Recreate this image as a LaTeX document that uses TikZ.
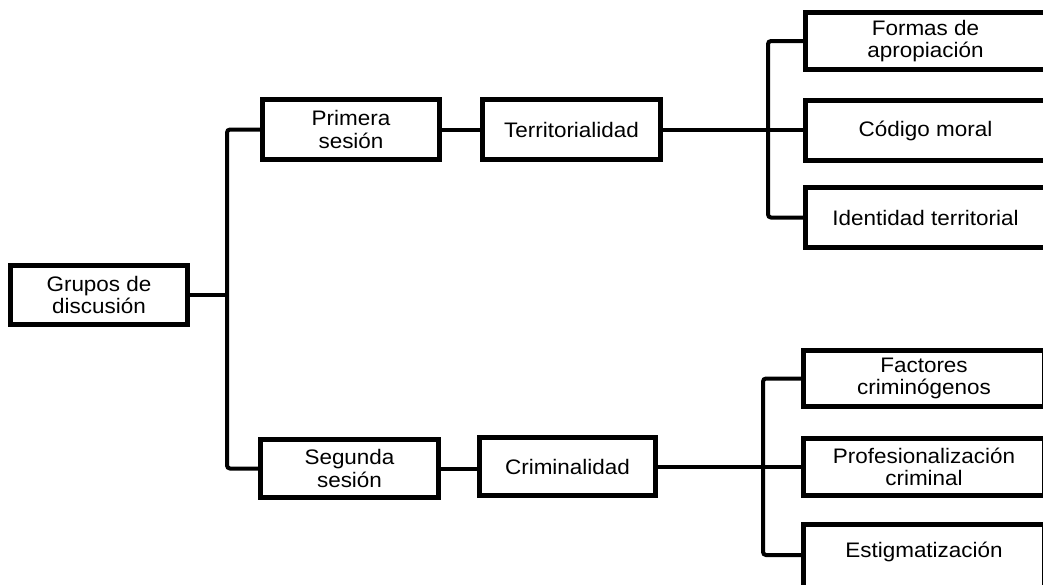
\documentclass[tikz,border=0pt]{standalone}
\usepackage{fontspec}
\setmainfont{Liberation Sans}[FakeStretch=1.07]
\begin{document}
\begin{tikzpicture}[x=1pt,y=-1pt,
  box/.style={draw=black, line width=5pt, align=center, inner sep=0pt,
    font=\fontsize{21}{22.5}\selectfont, text=black},
  link/.style={draw=black, line width=4pt, rounded corners=3pt}]
\clip (0,0) rectangle (1043,584);
\fill[white] (0,0) rectangle (1043,584);
% nodes
\node[box, minimum width=177pt, minimum height=59pt] (grupos) at (99,295) {Grupos de\\discusión};
\node[box, minimum width=177pt, minimum height=60pt] (prim) at (351,129.5) {Primera\\sesión};
\node[box, minimum width=178pt, minimum height=60pt] (terr) at (571.5,129.5) {Territorialidad};
\node[box, minimum width=240pt, minimum height=57pt] (formas) at (925.5,41) {Formas de\\apropiación};
\node[box, minimum width=240pt, minimum height=60pt] (codigo) at (925.5,130.5) {Código moral};
\node[box, minimum width=240pt, minimum height=60pt] (ident) at (925.5,217.5) {Identidad territorial};
\node[box, minimum width=178pt, minimum height=58pt] (seg) at (349.5,468.5) {Segunda\\sesión};
\node[box, minimum width=176pt, minimum height=58pt] (crim) at (567.5,466.5) {Criminalidad};
\node[box, minimum width=241pt, minimum height=56pt] (fact) at (924,378.5) {Factores\\criminógenos};
\node[box, minimum width=241pt, minimum height=57pt] (prof) at (924,467) {Profesionalización\\criminal};
\node[box, minimum width=241pt, text height=33pt, text depth=36pt, anchor=mid] (estig) at (924,555) {Estigmatización};
% trunks
\coordinate (t1) at (227,295);
\coordinate (t2) at (768,130);
\coordinate (t3) at (763,467);
% connectors
\draw[link] (prim.west) -| (t1) |- (seg.west);
\draw[link] (grupos.east) -- (t1);
\draw[link] (prim.east) -- (terr.west);
\draw[link] (seg.east) -- (seg.east -| crim.west);
\draw[link] (formas.west) -| (t2) |- (ident.west);
\draw[link] (terr.east) -- (terr.east -| codigo.west);
\draw[link] (fact.west) -| (t3) |- (estig.mid west);
\draw[link] (crim.east) -- (crim.east -| prof.west);
\end{tikzpicture}
\end{document}
